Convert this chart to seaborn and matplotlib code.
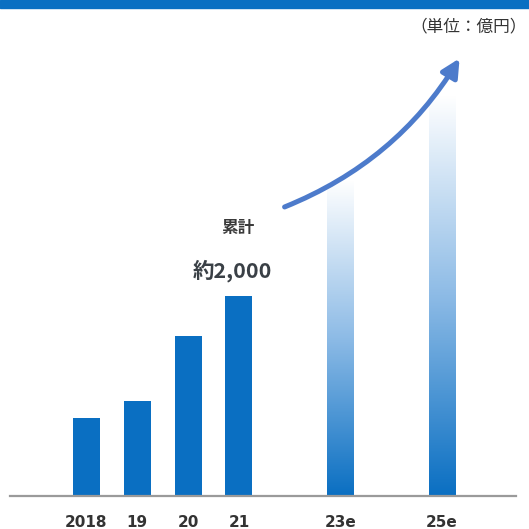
import numpy as np
import matplotlib
matplotlib.use("Agg")
import matplotlib.pyplot as plt
import seaborn as sns
from matplotlib.patches import Rectangle, FancyArrowPatch
from matplotlib.colors import LinearSegmentedColormap

# ---- data ----
years = [2018, 2019, 2020, 2021, 2023, 2025]
year_labels = ["2018", "19", "20", "21", "23e", "25e"]
values = [780, 950, 1600, 2000, 3150, 4000]
forecast = [False, False, False, False, True, True]

sns.set_theme(style="white")
plt.rcParams['font.family'] = ['DejaVu Sans', 'Noto Sans CJK JP']

W = H = 529
fig = plt.figure(figsize=(W / 100, H / 100), dpi=100)
fig.patch.set_facecolor("white")

# axes placement (pixels)
left_px, right_px = 10, 516
base_px, top_px = 496, 40
ax = fig.add_axes([left_px / W, (H - base_px) / H,
                   (right_px - left_px) / W, (base_px - top_px) / H])

solid = "#0a6fc2"
sns.barplot(x=years, y=values, native_scale=True, width=0.53,
            color=solid, saturation=1, ax=ax, linewidth=0)

# x scale: centre 2018 at 86.5 px, 50.8 px per year
ppu = 50.8
x0 = 2018 - (86.5 - left_px) / ppu
x1 = 2018 + (right_px - 86.5) / ppu
ax.set_xlim(x0, x1)
ax.set_ylim(0, (base_px - top_px) * 10)

# gradient for forecast bars (white at top -> solid blue at bottom)
cmap = LinearSegmentedColormap.from_list("g", ["#ffffff", "#8dbbe6", solid])
grad = np.linspace(0, 1, 256).reshape(-1, 1)
for patch, fc in zip(ax.patches, forecast):
    if fc:
        patch.set_facecolor("none")
        bx, by = patch.get_x(), patch.get_y()
        bw, bh = patch.get_width(), patch.get_height()
        im = ax.imshow(grad, extent=[bx, bx + bw, by, by + bh],
                       aspect="auto", cmap=cmap, origin="upper", zorder=2)
        im.set_clip_path(patch)

ax.set_yticks([])
ax.set_xticks(years)
ax.set_xticklabels(year_labels, fontsize=11, fontweight="bold", color="#333333")
ax.tick_params(axis="x", length=0, pad=14)
for s in ["top", "right", "left"]:
    ax.spines[s].set_visible(False)
ax.spines["bottom"].set_color("#9a9a9a")
ax.spines["bottom"].set_linewidth(1.6)
ax.set_xlabel("")
ax.set_ylabel("")

# top band
fig.add_artist(Rectangle((0, 1 - 8 / H), 1, 8 / H, transform=fig.transFigure,
                         color=solid, zorder=5))

cjk = ['Noto Sans CJK JP', 'DejaVu Sans']
fig.text(527 / W, 1 - 27 / H, "（単位：億円）", ha="right", va="center",
         fontsize=12, color="#333333", family=cjk)
fig.text(238 / W, 1 - 228 / H, "累計", ha="center", va="center",
         fontsize=12, fontweight="bold", color="#3a3a3a", family=cjk)
fig.text(232 / W, 1 - 271 / H, "約2,000", ha="center", va="center",
         fontsize=15.5, fontweight="bold", color="#3a4046", family=cjk)

# growth arrow
arrow = FancyArrowPatch((282 / W, 1 - 208 / H), (461 / W, 1 - 56 / H),
                        transform=fig.transFigure,
                        connectionstyle="arc3,rad=0.17",
                        arrowstyle="-|>,head_length=0.9,head_width=0.45",
                        mutation_scale=12, linewidth=3.6,
                        color="#4d7bcb", zorder=6)
fig.add_artist(arrow)

fig.savefig("out.png", dpi=100)
